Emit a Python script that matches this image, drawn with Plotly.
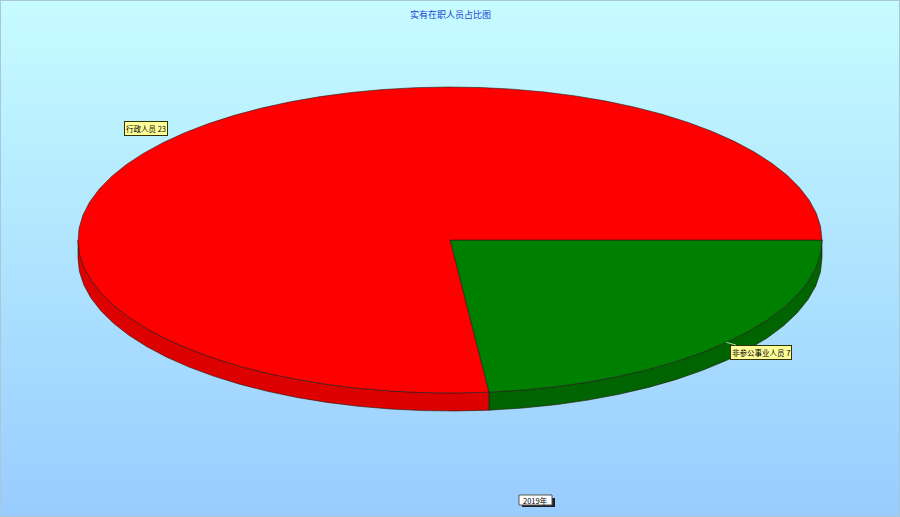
import base64
import numpy as np
import plotly.graph_objects as go

# ---- data ----
categories = ["非参公事业人员", "行政人员"]
values = [7, 23]
top_colors = ["#008000", "#ff0000"]
side_colors = ["#006400", "#dd0000"]
title_text = "实有在职人员占比图"
series_label = "2019年"

W, H = 900, 517
cx, cy = 450, 240
rx, ry = 372, 153
depth = 18

fig = go.Figure()

total = sum(values)
starts = np.cumsum([0] + values[:-1]) / total * 2 * np.pi
ends = np.cumsum(values) / total * 2 * np.pi


def arc(a0, a1, n=None):
    if n is None:
        n = max(int((a1 - a0) / (2 * np.pi) * 72), 2)
    t = np.linspace(a0, a1, n + 1)
    return cx + rx * np.cos(t), cy + ry * np.sin(t)


# side faces (front half: angles 0..pi)
for a0, a1, sc in zip(starts, ends, side_colors):
    s0, s1 = max(a0, 0), min(a1, np.pi)
    if s1 <= s0:
        continue
    x, y = arc(s0, s1)
    xs = list(x) + list(x[::-1]) + [x[0]]
    ys = list(y) + list((y + depth)[::-1]) + [y[0]]
    fig.add_trace(go.Scatter(x=xs, y=ys, fill="toself", fillcolor=sc, mode="lines",
                             line=dict(color="#2a1000", width=0.6),
                             hoverinfo="skip", showlegend=False))

# top faces
for a0, a1, tc, name, v in zip(starts, ends, top_colors, categories, values):
    x, y = arc(a0, a1)
    xs = [cx] + list(x) + [cx]
    ys = [cy] + list(y) + [cy]
    fig.add_trace(go.Scatter(x=xs, y=ys, fill="toself", fillcolor=tc, mode="lines",
                             line=dict(color="#202020", width=0.6),
                             name=name, text=f"{name} {v}", hoverinfo="text", showlegend=False))

# labels
font = dict(family="Noto Sans CJK SC, sans-serif", size=7.5, color="#000000")
mid0 = (starts[0] + ends[0]) / 2
tipx = cx + rx * np.cos(mid0)
tipy = cy + ry * np.sin(mid0)
fig.add_annotation(x=tipx, y=tipy, ax=761, ay=352, axref="x", ayref="y",
                   text=f"{categories[0]} {values[0]}", showarrow=True, arrowhead=0,
                   arrowwidth=0.8, arrowcolor="#ccffcc", standoff=0,
                   font=font, bgcolor="#ffff99", bordercolor="#333300", borderwidth=1, borderpad=1)
fig.add_annotation(x=146, y=128, text=f"{categories[1]} {values[1]}", showarrow=False,
                   font=font, bgcolor="#ffff99", bordercolor="#333300", borderwidth=1, borderpad=1)

# title
fig.add_annotation(x=0.5, y=14, xref="paper", yref="y", text=title_text, showarrow=False,
                   font=dict(family="Noto Sans CJK SC, sans-serif", size=9, color="#1a3fd0"))
# series label box with shadow
fig.add_shape(type="rect", x0=522, x1=555, y0=498, y1=507, fillcolor="#202020", line_width=0, layer="above")
fig.add_shape(type="rect", x0=519, x1=552, y0=495, y1=505, fillcolor="#ffffff",
              line=dict(color="#555555", width=1), layer="above")
fig.add_annotation(x=535.5, y=500, text=series_label, showarrow=False,
                   font=dict(family="Noto Sans CJK SC, sans-serif", size=7.5, color="#000000"))

svg = ('<svg xmlns="http://www.w3.org/2000/svg" width="900" height="517">'
       '<defs><linearGradient id="g" x1="0" y1="0" x2="0" y2="1">'
       '<stop offset="0" stop-color="#c6fcff"/><stop offset="1" stop-color="#99ccff"/>'
       '</linearGradient></defs><rect width="900" height="517" fill="url(#g)"/></svg>')
src = "data:image/svg+xml;base64," + base64.b64encode(svg.encode()).decode()

fig.update_layout(
    width=W, height=H,
    margin=dict(l=0, r=0, t=0, b=0),
    paper_bgcolor="#b0e8ff", plot_bgcolor="rgba(0,0,0,0)",
    xaxis=dict(range=[0, W], visible=False, fixedrange=True),
    yaxis=dict(range=[H, 0], visible=False, fixedrange=True),
    images=[dict(source=src, xref="paper", yref="paper", x=0, y=1, sizex=1, sizey=1,
                 sizing="stretch", layer="below", xanchor="left", yanchor="top")],
    shapes=list(fig.layout.shapes) + [dict(type="rect", xref="paper", yref="paper", x0=0, x1=1, y0=0, y1=1,
                                           line=dict(color="#a8c8d8", width=2))],
)

fig.write_html("out.html", config={"displayModeBar": False},
               post_script="document.body.style.margin='0';document.body.style.overflow='hidden';")
